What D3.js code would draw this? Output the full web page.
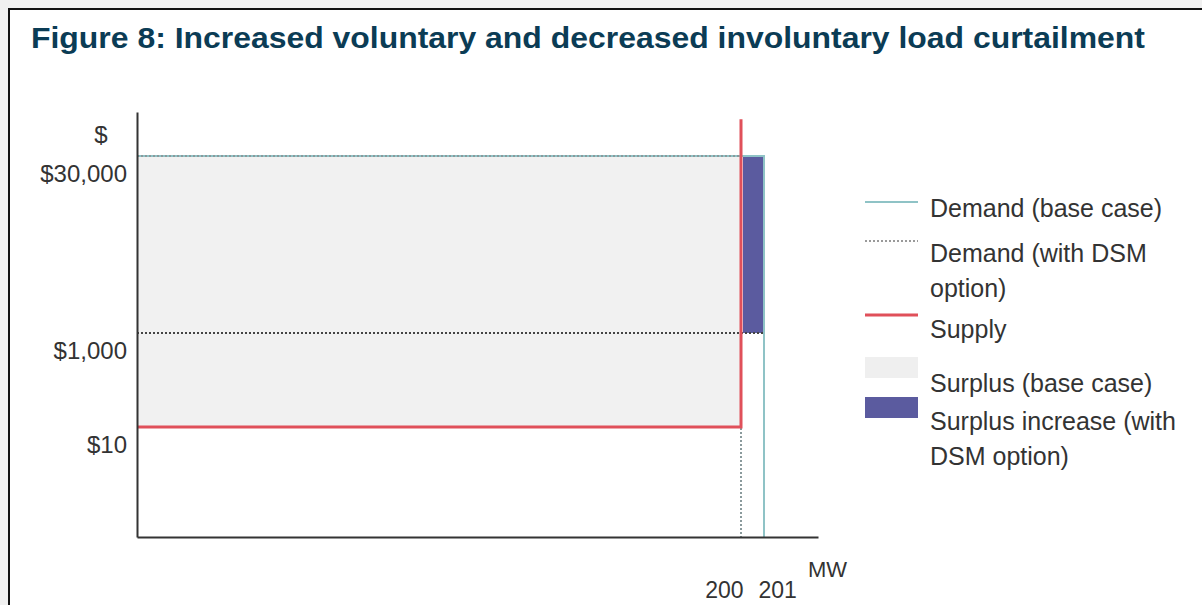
<!DOCTYPE html>
<html>
<head>
<meta charset="utf-8">
<script src="https://cdn.jsdelivr.net/npm/d3@7"></script>
<style>
  body { margin: 0; background: #f0f0f0; overflow: hidden; }
  text { font-family: "Liberation Sans", Arial, sans-serif; }
</style>
</head>
<body>
<div id="chart"></div>
<script>
// chart values (schematic supply/demand picture)
var yTicks = [10, 1000, 30000];
var yTickLabels = ["$10", "$1,000", "$30,000"];
var xTicks = [200, 201];
var xTickLabels = ["200", "201"];

var supply = [[0, 10], [200, 10], [200, 40000]];
var demandBase = [[0, 30000], [201, 30000], [201, 0]];
var demandDsmTop = [[0, 30000], [200, 30000], [200, 0]];
var demandDsmMid = [[0, 1000], [201, 1000]];
var surplusBase = [0, 200, 10, 30000];      // x0, x1, y0, y1
var surplusIncrease = [200, 201, 1000, 30000];

var legendItems = [
  {type: "line", color: "#8fc3c6", dash: null, lines: ["Demand (base case)"]},
  {type: "line", color: "#9a9a9a", dash: "2,2", lines: ["Demand (with DSM", "option)"]},
  {type: "line", color: "#e0505a", dash: null, lines: ["Supply"]},
  {type: "box", color: "#efefef", lines: ["Surplus (base case)"]},
  {type: "box", color: "#5b5b9f", lines: ["Surplus increase (with", "DSM option)"]}
];

var width = 1202, height = 605;

var svg = d3.select("#chart").append("svg")
    .attr("width", width)
    .attr("height", height);

// white panel with dark border
svg.append("rect")
    .attr("x", 9).attr("y", 9)
    .attr("width", 1300).attr("height", 700)
    .attr("fill", "#fff")
    .attr("stroke", "#111")
    .attr("stroke-width", 2);

svg.append("text")
    .attr("x", 31).attr("y", 48)
    .attr("textLength", 1114)
    .attr("lengthAdjust", "spacingAndGlyphs")
    .style("font-size", "29px")
    .style("font-weight", "bold")
    .attr("fill", "#0b3c55")
    .text("Figure 8: Increased voluntary and decreased involuntary load curtailment");

// piecewise scales: the picture is not to scale
var x = d3.scaleLinear().domain([0, 200, 201, 227]).range([137, 741, 764, 818]);
var y = d3.scaleLinear().domain([0, 10, 1000, 30000, 42000]).range([537, 427, 333, 156, 112]);

var line = d3.line().x(function(d) { return x(d[0]); }).y(function(d) { return y(d[1]); });

svg.append("rect")
    .attr("x", x(surplusBase[0]))
    .attr("width", x(surplusBase[1]) - x(surplusBase[0]))
    .attr("y", y(surplusBase[3]))
    .attr("height", y(surplusBase[2]) - y(surplusBase[3]))
    .attr("fill", "#f1f1f1");

svg.append("rect")
    .attr("x", x(surplusIncrease[0]) + 2)
    .attr("width", x(surplusIncrease[1]) - x(surplusIncrease[0]) - 2)
    .attr("y", y(surplusIncrease[3]))
    .attr("height", y(surplusIncrease[2]) - y(surplusIncrease[3]))
    .attr("fill", "#5b5b9f");

svg.append("path")
    .attr("d", line(demandBase))
    .attr("fill", "none")
    .attr("stroke", "#8fc3c6")
    .attr("stroke-width", 2);

svg.append("path")
    .attr("d", line(demandDsmTop))
    .attr("fill", "none")
    .attr("stroke", "#8a9a9c")
    .attr("stroke-width", 2)
    .attr("stroke-dasharray", "2,2");

svg.append("path")
    .attr("d", line(demandDsmMid))
    .attr("fill", "none")
    .attr("stroke", "#444")
    .attr("stroke-width", 2)
    .attr("stroke-dasharray", "2,2");

svg.append("path")
    .attr("d", line(supply))
    .attr("fill", "none")
    .attr("stroke", "#e0505a")
    .attr("stroke-width", 3);

// axes
var yAxis = svg.append("g")
    .attr("transform", "translate(" + x(0) + ",0)")
    .call(d3.axisLeft(y).tickValues(yTicks).tickSize(0).tickPadding(10)
        .tickFormat(function(d, i) { return yTickLabels[i]; }));
yAxis.select(".domain").attr("stroke", "#333").attr("stroke-width", 2);
yAxis.selectAll("text")
    .attr("dy", "1.05em")
    .style("font-size", "24px")
    .style("font-family", "'Liberation Sans', Arial, sans-serif")
    .attr("fill", "#333");

var xAxis = svg.append("g")
    .attr("transform", "translate(0," + y(0) + ")")
    .call(d3.axisBottom(x).tickValues(xTicks).tickSize(0).tickPadding(45)
        .tickFormat(function(d, i) { return xTickLabels[i]; }));
xAxis.select(".domain").attr("stroke", "#333").attr("stroke-width", 2);
xAxis.selectAll("text")
    .style("font-size", "23px")
    .style("font-family", "'Liberation Sans', Arial, sans-serif")
    .attr("fill", "#333")
    .attr("text-anchor", function(d, i) { return i === 0 ? "end" : "start"; })
    .attr("dx", function(d, i) { return i === 0 ? 2 : -6; });

svg.append("text")
    .attr("x", 101).attr("y", 143)
    .attr("text-anchor", "middle")
    .style("font-size", "24px")
    .attr("fill", "#333")
    .text("$");

svg.append("text")
    .attr("x", 808).attr("y", 577)
    .style("font-size", "22px")
    .attr("fill", "#333")
    .text("MW");

// legend
var legendTop = [217, 262, 338, 392, 430];
var lg = svg.append("g");
legendItems.forEach(function(it, i) {
  var base = legendTop[i];
  if (it.type === "line") {
    var ly = [202, 241, 315][i];
    lg.append("line")
        .attr("x1", 865).attr("x2", 918)
        .attr("y1", ly).attr("y2", ly)
        .attr("stroke", it.color)
        .attr("stroke-width", i === 2 ? 3 : 2)
        .attr("stroke-dasharray", it.dash);
  } else {
    var by = [357, 397][i - 3];
    lg.append("rect")
        .attr("x", 865).attr("y", by)
        .attr("width", 53).attr("height", 21)
        .attr("fill", it.color);
  }
  it.lines.forEach(function(t, j) {
    lg.append("text")
        .attr("x", 930).attr("y", base + j * 35)
        .style("font-size", "25px")
        .attr("fill", "#333")
        .text(t);
  });
});
</script>
</body>
</html>
